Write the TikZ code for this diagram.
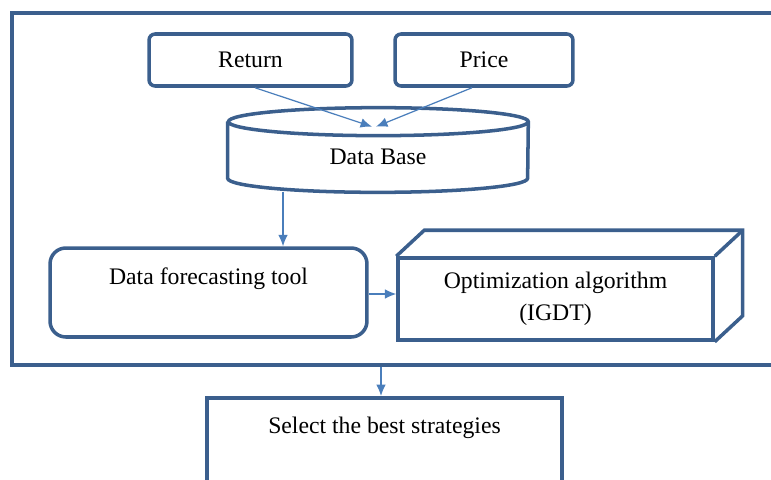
\documentclass[tikz,border=0pt]{standalone}
\usepackage{fontspec}
\setmainfont{Liberation Serif}
\usepackage{tikz}
\usetikzlibrary{shapes.geometric, arrows.meta}

\definecolor{boxblue}{HTML}{3B5F8D}
\definecolor{arrowblue}{HTML}{4A7EBB}

\begin{document}
\begin{tikzpicture}[x=0.02cm, y=-0.02cm, font=\fontsize{13.5}{18.5}\selectfont]
  \tikzstyle{boxline}=[draw=boxblue, line width=2pt]
  \tikzstyle{source} = [rectangle, rounded corners=3.5pt, boxline, minimum width=4.06cm, minimum height=1.04cm, text centered]
  \tikzstyle{process} = [rectangle, rounded corners=9pt, boxline, minimum width=6.34cm, minimum height=1.78cm, align=center]
  \tikzstyle{solver} = [rectangle, boxline, minimum width=6.3cm, minimum height=1.64cm, align=center]
  \tikzstyle{result} = [rectangle, boxline, minimum width=7.1cm, minimum height=2.4cm, anchor=north, align=center, text depth=1.3cm]
  \tikzstyle{arrow}=[draw=arrowblue, line width=0.7pt, -{Latex[length=6.5pt, width=5.5pt]}]

  \useasboundingbox (0,0) rectangle (771,480);
  \clip (0,0) rectangle (771,480);

  \node (frame) [rectangle, boxline, minimum width=15.76cm, minimum height=7.04cm] at (406,189) {};

  \node (ret) [source] at (250.5,60) {Return};
  \node (price) [source, minimum width=3.56cm] at (484,60) {Price};

  % data base drawn as a cylinder round the node
  \node (db) [rectangle, minimum width=6cm, minimum height=1.4cm] at (378,157) {Data Base};
  \draw [boxline] (db.north west) -- ([yshift=0.28cm]db.south west)
    arc[start angle=180, end angle=360, x radius=3cm, y radius=0.28cm]
    -- (db.north east)
    arc[start angle=0, end angle=360, x radius=3cm, y radius=0.28cm];

  \node (forecast) [process] at (208.5,292.5) {Data forecasting tool\\ \mbox{}};
  \node (opt) [solver] at (555.5,299) {Optimization algorithm\\(IGDT)};
  \draw [boxline] (opt.north west) -- ++(28,-26) -- ([shift={(28,-26)}]opt.north east)
    -- ([shift={(28,-26)}]opt.south east) -- (opt.south east);
  \draw [boxline] (opt.north east) -- ++(28,-26);

  \node (select) [result] at (384.5,396) {Select the best strategies};

  \draw [arrow] ([xshift=0.09cm]ret.south) -- ([xshift=-0.12cm, yshift=-0.1cm]db.north);
  \draw [arrow] ([xshift=-0.24cm]price.south) -- ([xshift=-0.04cm, yshift=-0.1cm]db.north);
  \draw [arrow] ([xshift=-1.9cm]db.south) -- ([xshift=-1.9cm]db.south |- forecast.north);
  \draw [arrow] ([yshift=-0.03cm]forecast.east) -- ([yshift=-0.03cm]forecast.east -| opt.west);
  \draw [arrow] ([xshift=-0.07cm]select.north |- frame.south) -- ([xshift=-0.07cm]select.north);

\end{tikzpicture}
\end{document}
